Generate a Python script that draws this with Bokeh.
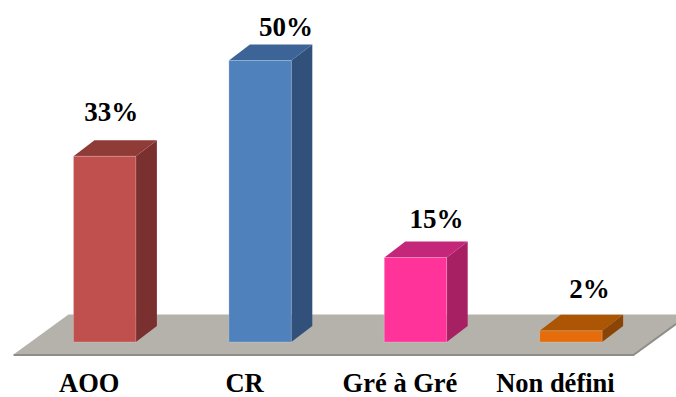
from bokeh.core.properties import value
from bokeh.embed import file_html
from bokeh.models import ColumnDataSource, Range1d
from bokeh.plotting import figure
from bokeh.resources import INLINE

# Share of each procedure type, in percent
categories = ["AOO", "CR", "Gré à Gré", "Non défini"]
shares = [33, 50, 15, 2]
labels = ["33%", "50%", "15%", "2%"]

# Face colours of each column: front, side, top
front_colors = ["#C0504D", "#4F81BD", "#FF3399", "#E46C0A"]
side_colors = ["#7A302E", "#31517A", "#A62063", "#8A4506"]
top_colors = ["#8F3B38", "#3D6496", "#C4267A", "#AB5505"]

WIDTH, HEIGHT = 676, 397
BASE_PX = 341.5        # screen row of the columns' front base
PX_PER_PCT = 5.63
FIRST_PX = 104.2       # screen column of the first column's centre
STEP_PX = 155.4

def sx(px):
    return (px - FIRST_PX) / STEP_PX

def sy(px):
    return (BASE_PX - px) / PX_PER_PCT

half = 31.2 / STEP_PX
depth_x = 21 / STEP_PX
depth_y = 16 / PX_PER_PCT

p = figure(
    width=WIDTH, height=HEIGHT, output_backend="svg", toolbar_location=None,
    x_range=Range1d(sx(0), sx(WIDTH)), y_range=Range1d(sy(HEIGHT), sy(0)),
    min_border=0, outline_line_color=None, background_fill_color="white",
    border_fill_color="white",
)
p.axis.visible = False
p.grid.visible = False

# Floor plane with its darker front and right edges
floor_x = [sx(13), sx(68), sx(688), sx(633)]
floor_y = [sy(354), sy(314), sy(314), sy(354)]
p.patch(floor_x, floor_y, fill_color="#B5B2AB", line_color=None)
p.line([sx(13), sx(633), sx(688)], [sy(354.5), sy(354.5), sy(314.5)],
       line_color="#8F8D88", line_width=2)

for i, share in enumerate(shares):
    left, right = i - half, i + half
    # side face
    p.patch([right, right + depth_x, right + depth_x, right],
            [0, depth_y, share + depth_y, share],
            fill_color=side_colors[i], line_color=None)
    # top face
    p.patch([left, left + depth_x, right + depth_x, right],
            [share, share + depth_y, share + depth_y, share],
            fill_color=top_colors[i], line_color=None)
    # front face with a faint pale rim
    p.quad(left=left, right=right, bottom=0, top=share,
           fill_color=front_colors[i], line_color="white", line_alpha=0.2, line_width=1)

# Value labels sit above each column, nudged by hand in pixels
label_dx = [6.5, 26, 21, 18.5]
label_dy = [44, 34, 39, 42]
p.text(
    source=ColumnDataSource(dict(
        x=list(range(len(shares))), y=shares, text=labels,
        dx=label_dx, dy=[-d for d in label_dy],
    )),
    x="x", y="y", text="text", x_offset="dx", y_offset="dy",
    text_font=value("Liberation Serif"), text_font_style="bold",
    text_font_size="27px", text_color="black",
    text_align="center", text_baseline="middle",
)

# Category names under the floor
p.text(
    source=ColumnDataSource(dict(
        x=list(range(len(categories))), y=[0] * len(categories), text=categories,
    )),
    x="x", y="y", text="text", x_offset=-15.5, y_offset=41,
    text_font=value("Liberation Serif"), text_font_style="bold",
    text_font_size="26.5px", text_color="black",
    text_align="center", text_baseline="middle",
)

open("out.html", "w").write(file_html(p, INLINE))
